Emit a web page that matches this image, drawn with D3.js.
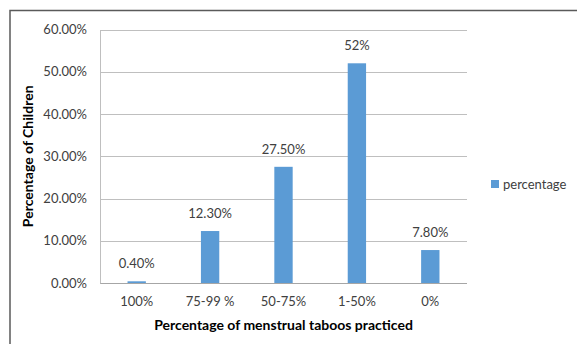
<!DOCTYPE html>
<html><head><meta charset="utf-8">
<script src="https://cdn.jsdelivr.net/npm/d3@7"></script>
<style>
html,body{margin:0;padding:0;background:#fff;}
svg{display:block;font-family:Lato, "Open Sans", sans-serif;}
</style></head>
<body>
<svg id="chart" width="577" height="344"></svg>
<script>
const categories = ["100%", "75-99 %", "50-75%", "1-50%", "0%"];
const values = [0.004, 0.123, 0.275, 0.52, 0.078];
const valueLabels = ["0.40%", "12.30%", "27.50%", "52%", "7.80%"];
const yTicks = [0, 0.1, 0.2, 0.3, 0.4, 0.5, 0.6];
const seriesName = "percentage";
const xTitle = "Percentage of menstrual taboos practiced";
const yTitle = "Percentage of Children";

const svg = d3.select("#chart");
const m = {left:100, right:467, top:29.5, bottom:283};
const barColor = "#5B9BD5";

// outer frame
svg.append("path").attr("d","M10,344 L10,10.5 L577,10.5")
  .attr("fill","none").attr("stroke","#5a5a5a").attr("stroke-width",1.5);

const x = d3.scaleBand().domain(categories).range([m.left, m.right]).paddingInner(0.75).paddingOuter(0.375);
const y = d3.scaleLinear().domain([0, 0.6]).range([m.bottom, m.top]);

// gridlines
svg.append("g").selectAll("line").data(yTicks).join("line")
  .attr("x1", m.left).attr("x2", m.right)
  .attr("y1", d => Math.round(y(d))+0.5).attr("y2", d => Math.round(y(d))+0.5)
  .attr("stroke", d => d===0 ? "#a6a6a6" : "#bfbfbf").attr("stroke-width",1);
// left axis line
svg.append("line").attr("x1", m.left+0.5).attr("x2", m.left+0.5)
  .attr("y1", Math.round(y(0.6))+0.5).attr("y2", Math.round(y(0))+0.5)
  .attr("stroke","#bfbfbf");

// y axis labels
const yAxis = d3.axisLeft(y).tickValues(yTicks).tickFormat(d3.format(".2%")).tickSize(0).tickPadding(13);
const gy = svg.append("g").attr("transform",`translate(${m.left},0)`).call(yAxis);
gy.select(".domain").remove();
gy.selectAll("text").attr("font-size",13).attr("fill","#404040").attr("font-family","Lato, sans-serif");

// x axis labels
const xAxis = d3.axisBottom(x).tickSize(0).tickPadding(14);
const gx = svg.append("g").attr("transform",`translate(0,${m.bottom})`).call(xAxis);
gx.select(".domain").remove();
gx.selectAll("text").attr("font-size",13).attr("fill","#404040").attr("font-family","Lato, sans-serif");

// bars
svg.append("g").selectAll("rect").data(values).join("rect")
  .attr("x", (d,i) => x(categories[i]))
  .attr("width", x.bandwidth())
  .attr("y", d => y(d))
  .attr("height", d => Math.max(1, y(0) - y(d)))
  .attr("fill", barColor);

// value labels
svg.append("g").selectAll("text").data(values).join("text")
  .attr("x", (d,i) => x(categories[i]) + x.bandwidth()/2)
  .attr("y", d => y(d) - 13)
  .attr("text-anchor","middle")
  .attr("font-size",13).attr("fill","#404040")
  .text((d,i) => valueLabels[i]);

// axis titles
svg.append("text").attr("x", (m.left+m.right)/2).attr("y", 330)
  .attr("text-anchor","middle").attr("font-size",14).attr("font-weight","bold").attr("fill","#000")
  .text(xTitle);
svg.append("text").attr("transform",`translate(33,${(m.top+m.bottom)/2}) rotate(-90)`)
  .attr("text-anchor","middle").attr("font-size",14).attr("font-weight","bold").attr("fill","#000")
  .text(yTitle);

// legend
svg.append("rect").attr("x",491).attr("y",180).attr("width",8).attr("height",8).attr("fill",barColor);
svg.append("text").attr("x",503).attr("y",188.5).attr("font-size",13).attr("fill","#404040").text(seriesName);
</script>
</body></html>
